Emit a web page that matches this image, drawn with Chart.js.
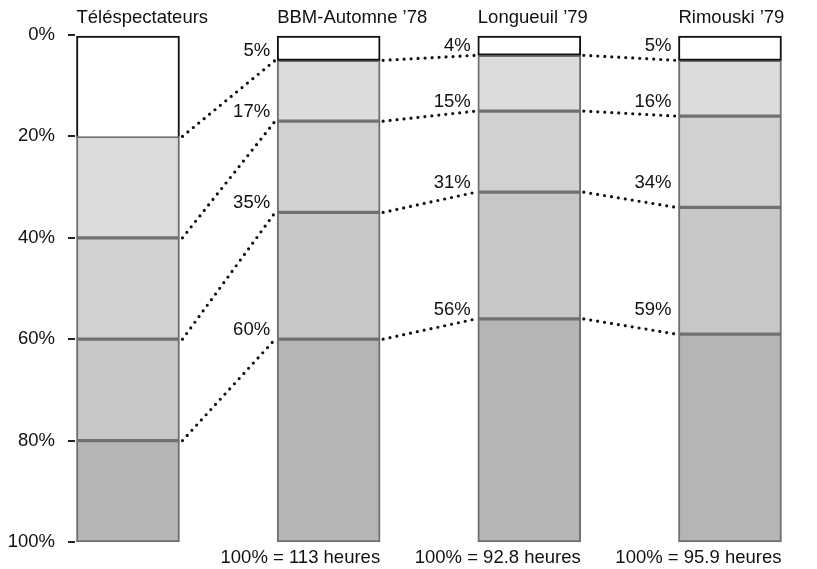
<!DOCTYPE html>
<html>
<head>
<meta charset="utf-8">
<script src="https://cdn.jsdelivr.net/npm/chart.js@4.4.1/dist/chart.umd.min.js"></script>
<style>
  html, body { margin: 0; padding: 0; background: #fff; }
  #wrap { width: 817px; height: 569px; }
</style>
</head>
<body>
<div id="wrap"><canvas id="chart"></canvas></div>
<script>
const categories = ['Téléspectateurs', 'BBM-Automne ’78', 'Longueuil ’79', 'Rimouski ’79'];
// cumulative share at each boundary, top to bottom (%)
const teleCuts = [20, 40, 60, 80];
const bbmCuts = [5, 17, 35, 60];
const longueuilCuts = [4, 15, 31, 56];
const rimouskiCuts = [5, 16, 34, 59];
const totalHours = ['', '113', '92.8', '95.9'];
const yTicks = [0, 20, 40, 60, 80, 100];

const allCuts = [teleCuts, bbmCuts, longueuilCuts, rimouskiCuts];
const shades = ['#ffffff', '#dcdcdc', '#d1d1d1', '#c7c7c7', '#b5b5b5'];
const FONT = '"Liberation Sans", Arial, sans-serif';

// size of segment k in a column, from its cuts
function segment(cuts, k) {
  const edges = [0, ...cuts, 100];
  return edges[k + 1] - edges[k];
}

const datasets = shades.map((c, k) => ({
  data: allCuts.map((cuts, i) => ({ x: i, y: segment(cuts, k) })),
  backgroundColor: c,
  borderColor: k === 0 ? '#111' : '#707070',
  borderWidth: 2,
  borderSkipped: k === 0 ? (ctx => ctx.dataIndex === 0 ? 'end' : false) : false,
  barThickness: 103,
  clip: false
}));

const overlay = {
  id: 'overlay',
  afterDatasetsDraw(chart) {
    const { ctx } = chart;
    const y = chart.scales.y;
    const bars = chart.getDatasetMeta(0).data;
    ctx.save();
    ctx.font = `18.5px ${FONT}`;
    ctx.fillStyle = '#111';

    // column titles
    ctx.textAlign = 'left';
    ctx.textBaseline = 'alphabetic';
    bars.forEach((b, i) => ctx.fillText(categories[i], b.x - b.width / 2, 23));

    // dotted links between matching boundaries
    ctx.setLineDash([0, 7]);
    ctx.lineCap = 'round';
    ctx.lineWidth = 3.2;
    ctx.strokeStyle = '#111';
    for (let i = 0; i < bars.length - 1; i++) {
      const a = bars[i], b = bars[i + 1];
      allCuts[i].forEach((v, k) => {
        ctx.beginPath();
        ctx.moveTo(a.x + a.width / 2 + 3, y.getPixelForValue(v));
        ctx.lineTo(b.x - b.width / 2 - 2, y.getPixelForValue(allCuts[i + 1][k]));
        ctx.stroke();
      });
    }
    ctx.setLineDash([]);

    // boundary labels (kept above the incoming dotted line) + totals
    ctx.textAlign = 'right';
    for (let i = 1; i < bars.length; i++) {
      const b = bars[i];
      allCuts[i].forEach((v, k) => {
        const top = Math.min(y.getPixelForValue(v), y.getPixelForValue(allCuts[i - 1][k]));
        ctx.fillText(v + '%', b.x - b.width / 2 - 7, top - 4);
      });
      ctx.fillText(`100% = ${totalHours[i]} heures`, b.x + b.width / 2, 563);
    }
    ctx.restore();
  }
};

new Chart(document.getElementById('chart'), {
  type: 'bar',
  data: { datasets },
  options: {
    responsive: true,
    maintainAspectRatio: false,
    animation: false,
    layout: { padding: { left: 8, right: 17, top: 35, bottom: 27 } },
    plugins: { legend: { display: false }, tooltip: { enabled: false } },
    scales: {
      x: { type: 'linear', stacked: true, offset: false, min: -0.264, max: 3.349, display: false },
      y: {
        stacked: true,
        reverse: true,
        min: 0,
        max: 100,
        afterFit: a => { a.width = 67; },
        afterBuildTicks: a => { a.ticks = yTicks.map(v => ({ value: v })); },
        ticks: { callback: v => v + '%', padding: 13, color: '#111', font: { family: FONT, size: 18.5 } },
        grid: { drawOnChartArea: false, tickLength: 7, color: '#222', lineWidth: 2 },
        border: { display: false }
      }
    }
  },
  plugins: [overlay]
});
</script>
</body>
</html>
